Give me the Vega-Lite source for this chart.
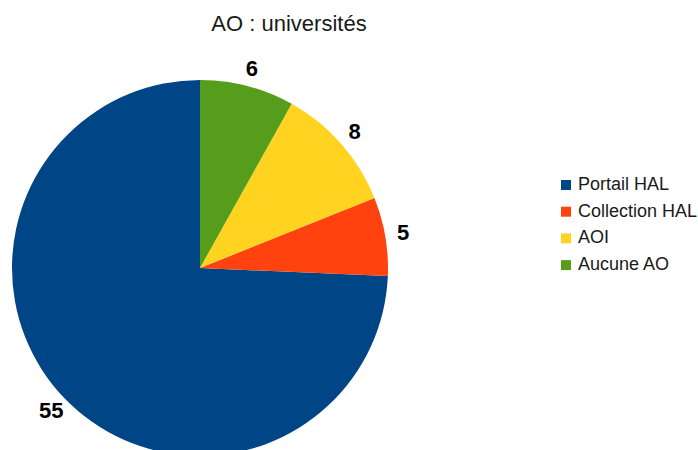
{
  "$schema": "https://vega.github.io/schema/vega-lite/v6.json",
  "autosize": "none",
  "padding": {"top": 44, "left": 0, "right": 298, "bottom": 0},
  "width": 400,
  "height": 448,
  "background": "white",
  "title": {"text": "AO : universités", "anchor": "middle", "dx": 89, "fontSize": 22, "fontWeight": "normal", "font": "Liberation Sans", "color": "#1a1a1a", "offset": 8},
  "data": {"values": [
    {"cat": "Portail HAL", "n": 55, "ord": 4},
    {"cat": "Collection HAL", "n": 5, "ord": 3},
    {"cat": "AOI", "n": 8, "ord": 2},
    {"cat": "Aucune AO", "n": 6, "ord": 1}
  ]},
  "encoding": {
    "theta": {"field": "n", "type": "quantitative", "stack": true},
    "order": {"field": "ord", "type": "quantitative"}
  },
  "layer": [
    {
      "mark": {"type": "arc", "outerRadius": 188},
      "encoding": {
        "color": {"field": "cat", "type": "nominal",
          "scale": {"domain": ["Portail HAL", "Collection HAL", "AOI", "Aucune AO"], "range": ["#004586", "#ff420e", "#ffd320", "#579d1c"]},
          "legend": {"title": null, "orient": "none", "legendX": 557, "legendY": 132, "symbolType": "square", "symbolSize": 100, "symbolStrokeWidth": 0, "labelFont": "Liberation Sans", "labelFontSize": 18, "labelColor": "#1a1a1a", "rowPadding": 8.7, "labelOffset": 3}
        }
      }
    },
    {
      "mark": {"type": "text", "radius": 206, "font": "Liberation Sans", "fontSize": 22, "fontWeight": "bold", "color": "#000"},
      "encoding": {"text": {"field": "n", "type": "quantitative"}}
    }
  ]
}
